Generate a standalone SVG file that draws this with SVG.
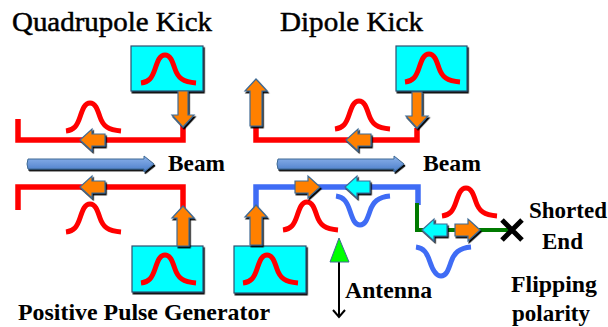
<svg xmlns="http://www.w3.org/2000/svg" width="608" height="327" viewBox="0 0 608 327">
<style>
text{font-family:"Liberation Serif","Times New Roman",serif;font-weight:bold;fill:#000}
.t{font-size:28px;font-weight:normal;stroke:#000;stroke-width:.5}
.l{font-size:23px}
.box{fill:#00ffff;stroke:#2f4f6f;stroke-width:1.2;filter:url(#sh)}
.red{fill:none;stroke:#ff0000;stroke-width:5.5}
.blue{fill:none;stroke:#3f6cf5;stroke-width:5.5}
.green{fill:none;stroke:#007a00;stroke-width:4}
.p{fill:none;stroke-width:5;stroke-linecap:butt}
.pr{stroke:#ff0000}
.pb{stroke:#3f6cf5}
.o{fill:#ff8000;stroke:#3f6a94;stroke-width:1.2;filter:url(#sh)}
.c{fill:#00ffff;stroke:#3f6a94;stroke-width:1.2;filter:url(#sh)}
.b{fill:#6f9ee0;stroke:#3f6a94;stroke-width:1;filter:url(#sh)}
</style>
<defs>
<filter id="sh" x="-20%" y="-20%" width="150%" height="150%"><feDropShadow dx="1.2" dy="1.8" stdDeviation="0" flood-color="#000"/></filter>
<linearGradient id="g" x1="0" y1="0" x2="0" y2="1"><stop offset="0" stop-color="#8db4ec"/><stop offset="1" stop-color="#4a7cc8"/></linearGradient>
<path id="pulse" d="M0 0C8 -1 11 -5 14 -14C17 -23 19 -28 24 -28C29 -28 31 -23 34 -14C37 -5 42 -1 55 0"/>
<path id="left" d="M0 0L12 -11V-6H25V6H12V11Z"/>
<path id="right" d="M25 0L13 -11V-6H0V6H13V11Z"/>
<path id="up" d="M0 0L11 12H6V40H-6V12H-11Z"/>
<path id="up-long" d="M0 0L11 12H6V47H-6V12H-11Z"/>
<path id="down" d="M0 0L-11 -12H-5V-36H5V-12H11Z"/>
<path id="beam" d="M0 -5H116V-8L126 0L116 8V5H0Q-2 0 0 -5Z"/>
</defs>
<g id="connectors">
<path class="red" d="M18 119V140H183V125"/>
<path class="red" d="M18 210V187H183V210"/>
<path class="red" d="M256 125V140H417V128"/>
<path class="blue" d="M256 218V187H418V205"/>
<path class="green" d="M417 203V230H512"/>
<path d="M339 262V317M333 310L339 317L345 310" fill="none" stroke="#000" stroke-width="2"/>
</g>
<g id="title-quadrupole"><text class="t" x="12" y="31" textLength="200" lengthAdjust="spacingAndGlyphs">Quadrupole Kick</text></g>
<g id="title-dipole"><text class="t" x="280" y="31" textLength="143" lengthAdjust="spacingAndGlyphs">Dipole Kick</text></g>
<g id="generator-q-top"><rect class="box" x="131" y="46" width="72" height="45"/><use href="#pulse" class="p pr" x="141" y="83"/></g>
<g id="generator-q-bottom"><rect class="box" x="132" y="246" width="71" height="46"/><use href="#pulse" class="p pr" x="141" y="283"/></g>
<g id="generator-d-top"><rect class="box" x="396" y="46" width="71" height="45"/><use href="#pulse" class="p pr" x="405" y="82"/></g>
<g id="generator-d-bottom"><rect class="box" x="234" y="246" width="72" height="47"/><use href="#pulse" class="p pr" x="243" y="283"/></g>
<g id="pulses">
<use href="#pulse" class="p pr" x="66" y="131"/>
<use href="#pulse" class="p pr" x="66" y="232"/>
<use href="#pulse" class="p pr" x="335" y="129"/>
<use href="#pulse" class="p pr" x="283" y="230"/>
<use href="#pulse" class="p pr" x="442" y="216"/>
<path class="p pb" d="M336 196C344 197 347 202 350 211C353 220 355 225 360 225C365 225 367 220 370 211C373 202 378 197 390 196"/>
<path class="p pb" d="M416 247C424 248 427 253 430 262C433 271 436 276 441 276C446 276 448 271 451 262C454 253 459 248 471 247"/>
</g>
<g id="arrows">
<use href="#down" class="o" x="183" y="127"/>
<use href="#up" class="o" x="183" y="206"/>
<use href="#left" class="o" x="80" y="140"/>
<use href="#left" class="o" x="80" y="187"/>
<use href="#down" class="o" x="417" y="128"/>
<use href="#up-long" class="o" x="256" y="79"/>
<use href="#left" class="o" x="346" y="140"/>
<use href="#up" class="o" x="256" y="205"/>
<use href="#right" class="o" x="295" y="187"/>
<use href="#left" class="c" x="345" y="187"/>
<use href="#left" class="c" x="422" y="230"/>
<use href="#right" class="o" x="455" y="230"/>
<use href="#beam" class="b" x="28" y="164" style="fill:url(#g)"/>
<use href="#beam" class="b" x="278" y="164" style="fill:url(#g)"/>
</g>
<g id="antenna"><path d="M339 238L349 262H330Z" fill="#00ff00" stroke="#3f6a94" stroke-width="1"/></g>
<g id="shorted-end"><path d="M502 220L522 240M522 220L502 240" stroke="#000" stroke-width="5" fill="none"/></g>
<g id="labels">
<text class="l" x="168" y="171" textLength="57" lengthAdjust="spacingAndGlyphs">Beam</text>
<text class="l" x="423" y="171" textLength="58" lengthAdjust="spacingAndGlyphs">Beam</text>
<text class="l" x="18" y="320" textLength="252" lengthAdjust="spacingAndGlyphs">Positive Pulse Generator</text>
<text class="l" x="345" y="298" textLength="87" lengthAdjust="spacingAndGlyphs">Antenna</text>
<text class="l" x="529" y="218" textLength="78" lengthAdjust="spacingAndGlyphs">Shorted</text>
<text class="l" x="542" y="249">End</text>
<text class="l" x="511" y="292" textLength="86" lengthAdjust="spacingAndGlyphs">Flipping</text>
<text class="l" x="512" y="321">polarity</text>
</g>
</svg>
